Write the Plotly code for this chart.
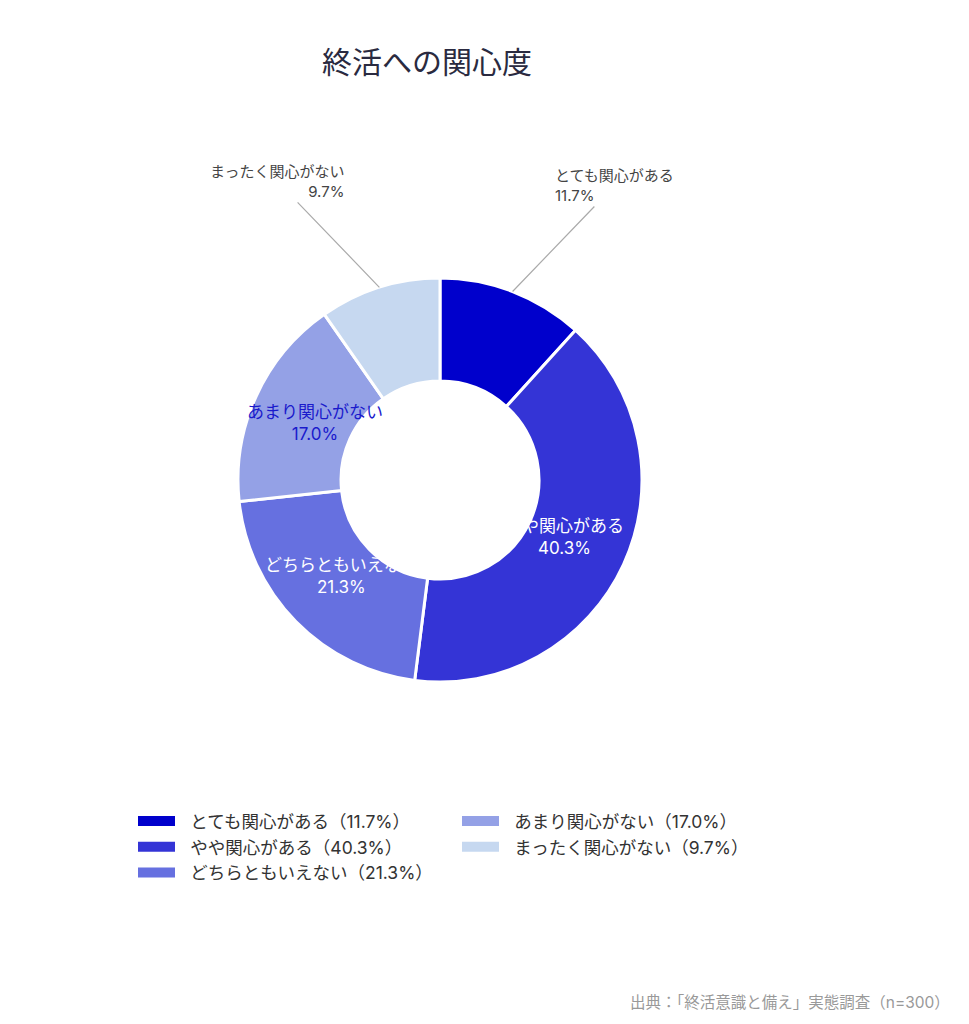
import math
import plotly.graph_objects as go

labels = ["とても関心がある", "やや関心がある", "どちらともいえない", "あまり関心がない", "まったく関心がない"]
values = [11.7, 40.3, 21.3, 17.0, 9.7]
colors = ["#0000CC", "#3434D6", "#6670E0", "#94A1E6", "#C6D8F0"]
label_inside = [False, True, True, True, False]
label_colors = ["#444444", "#FFFFFF", "#FFFFFF", "#1A1ACC", "#444444"]
title_text = "終活への関心度"
source_text = "出典：「終活意識と備え」実態調査（n=300）"

FONT = "Inter, Noto Sans CJK JP, sans-serif"

# layout geometry (px)
W, H = 969, 1024
ML, MR, MT, MB = 60, 149, 278, 342
PW, PH = W - ML - MR, H - MT - MB
R = min(PW, PH) / 2          # pie outer radius in px
HOLE = 0.49
TEXT_R = 0.68                # inside label radius as fraction of R
OUT_DX, OUT_DY = 102, -106   # outside label offset (px)

fig = go.Figure()
fig.add_trace(go.Pie(
    labels=labels, values=values, sort=False, direction="clockwise", rotation=0,
    hole=HOLE,
    marker=dict(colors=colors, line=dict(color="#FFFFFF", width=3)),
    textinfo="none",
    showlegend=False, hoverinfo="label+percent",
))

# slice labels, positioned from the cumulative share of each slice
total = sum(values)
annotations = []
cum = 0.0
for lab, val, inside, tcol in zip(labels, values, label_inside, label_colors):
    mid = (cum + val / 2) / total * 2 * math.pi
    cum += val
    sx, sy = math.sin(mid), -math.cos(mid)   # screen direction (y down)
    txt = f"{lab}<br>{val:.1f}%"
    if inside:
        annotations.append(dict(
            text=txt, x=0.5 + sx * R * TEXT_R / PW, y=0.5 - sy * R * TEXT_R / PH,
            xref="paper", yref="paper", showarrow=False, align="center",
            xanchor="center", yanchor="middle",
            font=dict(size=17, color=tcol, family=FONT)))
    else:
        right = sx >= 0
        annotations.append(dict(
            text=txt, x=0.5 + sx * R / PW, y=0.5 - sy * R / PH,
            xref="paper", yref="paper", showarrow=True,
            ax=OUT_DX if right else -OUT_DX, ay=OUT_DY,
            arrowhead=0, arrowwidth=1.2, arrowcolor="#AAAAAA", standoff=0,
            align="left" if right else "right",
            font=dict(size=15, color=tcol, family=FONT)))

annotations.append(dict(text=source_text, x=(952 - ML) / PW, y=(MT + PH - 1002) / PH,
                        xref="paper", yref="paper", xanchor="right", yanchor="middle",
                        showarrow=False, font=dict(size=15.5, color="#999999", family=FONT)))

# legend entries (two columns)
for i, (lab, val, col) in enumerate(zip(labels, values, colors)):
    fig.add_trace(go.Scatter(
        x=[None], y=[None], mode="lines",
        line=dict(color=col, width=14),
        name=f"\u2002\u200a{lab}（{val:.1f}%）",
        legend="legend" if i < 3 else "legend2",
        hoverinfo="skip",
    ))

legend_common = dict(orientation="v", font=dict(size=17.5, color="#333333", family=FONT),
                     bgcolor="rgba(0,0,0,0)", itemwidth=37, tracegroupgap=0,
                     yanchor="top", xanchor="left")

fig.update_layout(
    width=W, height=H,
    margin=dict(l=ML, r=MR, t=MT, b=MB, autoexpand=False),
    paper_bgcolor="#FFFFFF", plot_bgcolor="#FFFFFF",
    font=dict(family=FONT),
    title=dict(text=title_text, x=427 / W, xanchor="center", y=1 - 62 / H, yanchor="middle",
               font=dict(size=30, color="#2A2A40", family=FONT)),
    xaxis=dict(visible=False), yaxis=dict(visible=False),
    legend=dict(x=(133 - ML) / PW, y=-0.30, **legend_common),
    legend2=dict(x=(457 - ML) / PW, y=-0.30, **legend_common),
    annotations=annotations,
)

fig.write_html("out.html")
